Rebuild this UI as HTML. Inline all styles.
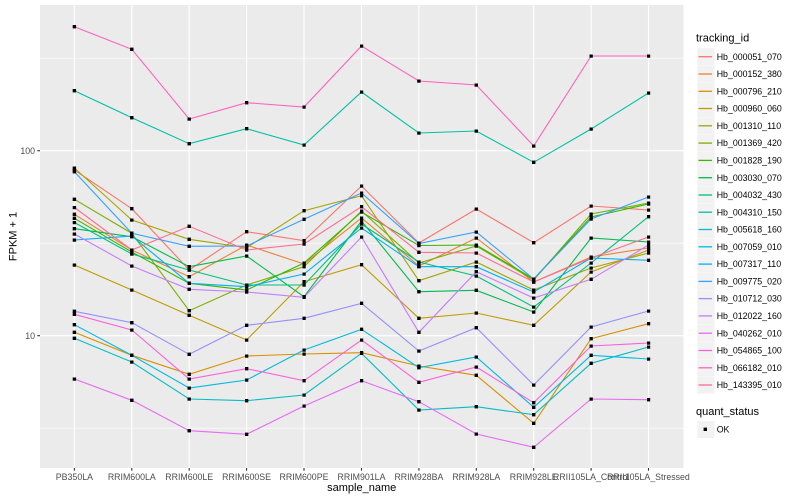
<!DOCTYPE html>
<html><head><meta charset="utf-8"><style>
html,body{margin:0;padding:0;background:#fff;}
svg{display:block;}
text{font-family:"Liberation Sans",Arial,sans-serif;}
</style></head><body>
<svg width="800" height="500" viewBox="0 0 800 500" xmlns="http://www.w3.org/2000/svg">
<defs>
<marker id="m" markerWidth="4" markerHeight="4" refX="1.7" refY="1.7" markerUnits="userSpaceOnUse"><rect x="0" y="0" width="3.4" height="3.4" fill="#000"/></marker>
</defs>
<rect x="0" y="0" width="800" height="500" fill="#fff"/>
<rect x="40" y="5" width="643.5" height="463" fill="#EBEBEB"/>
<g stroke="#fff" stroke-width="0.55">
<line x1="40" x2="683.5" y1="58.2" y2="58.2"/>
<line x1="40" x2="683.5" y1="243.2" y2="243.2"/>
<line x1="40" x2="683.5" y1="428.2" y2="428.2"/>
</g>
<g stroke="#fff" stroke-width="1.1">
<line x1="40" x2="683.5" y1="150.7" y2="150.7"/>
<line x1="40" x2="683.5" y1="335.7" y2="335.7"/>
<line x1="74.4" x2="74.4" y1="5" y2="468"/>
<line x1="131.8" x2="131.8" y1="5" y2="468"/>
<line x1="189.2" x2="189.2" y1="5" y2="468"/>
<line x1="246.6" x2="246.6" y1="5" y2="468"/>
<line x1="304.0" x2="304.0" y1="5" y2="468"/>
<line x1="361.5" x2="361.5" y1="5" y2="468"/>
<line x1="418.9" x2="418.9" y1="5" y2="468"/>
<line x1="476.3" x2="476.3" y1="5" y2="468"/>
<line x1="533.7" x2="533.7" y1="5" y2="468"/>
<line x1="591.1" x2="591.1" y1="5" y2="468"/>
<line x1="648.5" x2="648.5" y1="5" y2="468"/>
</g>
<g fill="none" stroke-width="1.1" id="lines">
<polyline stroke="#F8766D" points="74.4,170 131.8,208.7 189.2,270 246.6,231.7 304,240.7 361.5,186 418.9,243 476.3,209 533.7,242.7 591.1,206 648.5,210"/>
<polyline stroke="#EA8331" points="74.4,214.3 131.8,250 189.2,276.7 246.6,245 304,264 361.5,218 418.9,266 476.3,238 533.7,282 591.1,257 648.5,248"/>
<polyline stroke="#D89000" points="74.4,332.3 131.8,355.3 189.2,374.3 246.6,356 304,354 361.5,352.7 418.9,366 476.3,375.3 533.7,423.3 591.1,338.7 648.5,323.7"/>
<polyline stroke="#C09B00" points="74.4,265 131.8,290 189.2,315.3 246.6,340 304,281.7 361.5,264.7 418.9,318.3 476.3,313 533.7,325.3 591.1,272 648.5,250"/>
<polyline stroke="#A3A500" points="74.4,168 131.8,220 189.2,239.3 246.6,247.7 304,210.7 361.5,195.7 418.9,280.7 476.3,262 533.7,290 591.1,268 648.5,253"/>
<polyline stroke="#7CAE00" points="74.4,199.3 131.8,233.3 189.2,310.7 246.6,285 304,266.7 361.5,211 418.9,263 476.3,246 533.7,280 591.1,214 648.5,203"/>
<polyline stroke="#39B600" points="74.4,218.3 131.8,252 189.2,283.3 246.6,290 304,263 361.5,212 418.9,245.5 476.3,245 533.7,279 591.1,217 648.5,204"/>
<polyline stroke="#00BB4E" points="74.4,228.7 131.8,236.7 189.2,266.7 246.6,256 304,296.7 361.5,221 418.9,291.7 476.3,290.3 533.7,312 591.1,238 648.5,242"/>
<polyline stroke="#00BF7D" points="74.4,222.5 131.8,254 189.2,270 246.6,285 304,285 361.5,224 418.9,262 476.3,276 533.7,307 591.1,263 648.5,216.7"/>
<polyline stroke="#00C1A3" points="74.4,90.7 131.8,117.7 189.2,143.7 246.6,128.7 304,145 361.5,92 418.9,133 476.3,131 533.7,162.3 591.1,129 648.5,93"/>
<polyline stroke="#00BFC4" points="74.4,338.3 131.8,362 189.2,399 246.6,400.7 304,395 361.5,353.3 418.9,410 476.3,406.7 533.7,414.7 591.1,363.3 648.5,347"/>
<polyline stroke="#00BAE0" points="74.4,324.7 131.8,355.3 189.2,388 246.6,380 304,350 361.5,329.3 418.9,367.7 476.3,357 533.7,407.3 591.1,355.3 648.5,359"/>
<polyline stroke="#00B0F6" points="74.4,240 131.8,236 189.2,283.3 246.6,286.7 304,274 361.5,228 418.9,266.7 476.3,266.7 533.7,292 591.1,258 648.5,260.3"/>
<polyline stroke="#35A2FF" points="74.4,171.7 131.8,233.3 189.2,246.3 246.6,246 304,219.3 361.5,193 418.9,243.5 476.3,232 533.7,279 591.1,219 648.5,197"/>
<polyline stroke="#9590FF" points="74.4,311.3 131.8,322.7 189.2,354.3 246.6,325.3 304,318.3 361.5,303.3 418.9,351 476.3,327.7 533.7,385 591.1,327 648.5,311"/>
<polyline stroke="#C77CFF" points="74.4,234 131.8,266 189.2,289.3 246.6,292 304,297.3 361.5,237 418.9,332.3 476.3,271.7 533.7,298 591.1,279.3 648.5,245"/>
<polyline stroke="#E76BF3" points="74.4,379 131.8,400.3 189.2,430.7 246.6,434.3 304,406 361.5,380.7 418.9,401.7 476.3,434 533.7,447.3 591.1,399 648.5,399.7"/>
<polyline stroke="#FA62DB" points="74.4,314.3 131.8,330 189.2,379 246.6,368.7 304,380.7 361.5,340 418.9,382.3 476.3,367 533.7,402.7 591.1,346 648.5,343"/>
<polyline stroke="#FF62BC" points="74.4,26.7 131.8,49.3 189.2,119 246.6,102.7 304,107 361.5,46 418.9,81 476.3,85 533.7,146 591.1,56 648.5,56"/>
<polyline stroke="#FF6C91" points="74.4,207.5 131.8,250 189.2,226.3 246.6,250 304,244 361.5,206.7 418.9,252.3 476.3,253 533.7,282 591.1,258 648.5,237"/>
</g>
<g fill="none" stroke="none" marker-start="url(#m)" marker-mid="url(#m)" marker-end="url(#m)">
<polyline points="74.4,170 131.8,208.7 189.2,270 246.6,231.7 304,240.7 361.5,186 418.9,243 476.3,209 533.7,242.7 591.1,206 648.5,210"/>
<polyline points="74.4,214.3 131.8,250 189.2,276.7 246.6,245 304,264 361.5,218 418.9,266 476.3,238 533.7,282 591.1,257 648.5,248"/>
<polyline points="74.4,332.3 131.8,355.3 189.2,374.3 246.6,356 304,354 361.5,352.7 418.9,366 476.3,375.3 533.7,423.3 591.1,338.7 648.5,323.7"/>
<polyline points="74.4,265 131.8,290 189.2,315.3 246.6,340 304,281.7 361.5,264.7 418.9,318.3 476.3,313 533.7,325.3 591.1,272 648.5,250"/>
<polyline points="74.4,168 131.8,220 189.2,239.3 246.6,247.7 304,210.7 361.5,195.7 418.9,280.7 476.3,262 533.7,290 591.1,268 648.5,253"/>
<polyline points="74.4,199.3 131.8,233.3 189.2,310.7 246.6,285 304,266.7 361.5,211 418.9,263 476.3,246 533.7,280 591.1,214 648.5,203"/>
<polyline points="74.4,218.3 131.8,252 189.2,283.3 246.6,290 304,263 361.5,212 418.9,245.5 476.3,245 533.7,279 591.1,217 648.5,204"/>
<polyline points="74.4,228.7 131.8,236.7 189.2,266.7 246.6,256 304,296.7 361.5,221 418.9,291.7 476.3,290.3 533.7,312 591.1,238 648.5,242"/>
<polyline points="74.4,222.5 131.8,254 189.2,270 246.6,285 304,285 361.5,224 418.9,262 476.3,276 533.7,307 591.1,263 648.5,216.7"/>
<polyline points="74.4,90.7 131.8,117.7 189.2,143.7 246.6,128.7 304,145 361.5,92 418.9,133 476.3,131 533.7,162.3 591.1,129 648.5,93"/>
<polyline points="74.4,338.3 131.8,362 189.2,399 246.6,400.7 304,395 361.5,353.3 418.9,410 476.3,406.7 533.7,414.7 591.1,363.3 648.5,347"/>
<polyline points="74.4,324.7 131.8,355.3 189.2,388 246.6,380 304,350 361.5,329.3 418.9,367.7 476.3,357 533.7,407.3 591.1,355.3 648.5,359"/>
<polyline points="74.4,240 131.8,236 189.2,283.3 246.6,286.7 304,274 361.5,228 418.9,266.7 476.3,266.7 533.7,292 591.1,258 648.5,260.3"/>
<polyline points="74.4,171.7 131.8,233.3 189.2,246.3 246.6,246 304,219.3 361.5,193 418.9,243.5 476.3,232 533.7,279 591.1,219 648.5,197"/>
<polyline points="74.4,311.3 131.8,322.7 189.2,354.3 246.6,325.3 304,318.3 361.5,303.3 418.9,351 476.3,327.7 533.7,385 591.1,327 648.5,311"/>
<polyline points="74.4,234 131.8,266 189.2,289.3 246.6,292 304,297.3 361.5,237 418.9,332.3 476.3,271.7 533.7,298 591.1,279.3 648.5,245"/>
<polyline points="74.4,379 131.8,400.3 189.2,430.7 246.6,434.3 304,406 361.5,380.7 418.9,401.7 476.3,434 533.7,447.3 591.1,399 648.5,399.7"/>
<polyline points="74.4,314.3 131.8,330 189.2,379 246.6,368.7 304,380.7 361.5,340 418.9,382.3 476.3,367 533.7,402.7 591.1,346 648.5,343"/>
<polyline points="74.4,26.7 131.8,49.3 189.2,119 246.6,102.7 304,107 361.5,46 418.9,81 476.3,85 533.7,146 591.1,56 648.5,56"/>
<polyline points="74.4,207.5 131.8,250 189.2,226.3 246.6,250 304,244 361.5,206.7 418.9,252.3 476.3,253 533.7,282 591.1,258 648.5,237"/>
</g>
<!-- axes ticks -->
<g stroke="#333" stroke-width="1.1">
<line x1="37.3" x2="40" y1="150.7" y2="150.7"/>
<line x1="37.3" x2="40" y1="335.7" y2="335.7"/>
<line x1="74.4" x2="74.4" y1="468" y2="470.7"/>
<line x1="131.8" x2="131.8" y1="468" y2="470.7"/>
<line x1="189.2" x2="189.2" y1="468" y2="470.7"/>
<line x1="246.6" x2="246.6" y1="468" y2="470.7"/>
<line x1="304.0" x2="304.0" y1="468" y2="470.7"/>
<line x1="361.5" x2="361.5" y1="468" y2="470.7"/>
<line x1="418.9" x2="418.9" y1="468" y2="470.7"/>
<line x1="476.3" x2="476.3" y1="468" y2="470.7"/>
<line x1="533.7" x2="533.7" y1="468" y2="470.7"/>
<line x1="591.1" x2="591.1" y1="468" y2="470.7"/>
<line x1="648.5" x2="648.5" y1="468" y2="470.7"/>
</g>
<g font-size="8.8" fill="#4D4D4D">
<text x="35" y="153.8" text-anchor="end">100</text>
<text x="35" y="338.8" text-anchor="end">10</text>
</g>
<g font-size="8.8" fill="#4D4D4D" text-anchor="middle">
<text x="74.4" y="480">PB350LA</text>
<text x="131.8" y="480">RRIM600LA</text>
<text x="189.2" y="480">RRIM600LE</text>
<text x="246.6" y="480">RRIM600SE</text>
<text x="304.0" y="480">RRIM600PE</text>
<text x="361.5" y="480">RRIM901LA</text>
<text x="418.9" y="480">RRIM928BA</text>
<text x="476.3" y="480">RRIM928LA</text>
<text x="533.7" y="480">RRIM928LE</text>
<text x="591.1" y="480">RRII105LA_Control</text>
<text x="648.5" y="480">RRII105LA_Stressed</text>
</g>
<text x="361.7" y="491" font-size="11" text-anchor="middle" fill="#000">sample_name</text>
<text transform="translate(16.7,236.5) rotate(-90)" font-size="11" text-anchor="middle" fill="#000">FPKM + 1</text>
<!-- legend -->
<text x="696" y="41.7" font-size="11" fill="#000">tracking_id</text>
<g fill="#F2F2F2">
<rect x="697.3" y="48.2" width="17.2" height="17"/>
<rect x="697.3" y="65.5" width="17.2" height="17"/>
<rect x="697.3" y="82.8" width="17.2" height="17"/>
<rect x="697.3" y="100.1" width="17.2" height="17"/>
<rect x="697.3" y="117.4" width="17.2" height="17"/>
<rect x="697.3" y="134.7" width="17.2" height="17"/>
<rect x="697.3" y="152.0" width="17.2" height="17"/>
<rect x="697.3" y="169.2" width="17.2" height="17"/>
<rect x="697.3" y="186.5" width="17.2" height="17"/>
<rect x="697.3" y="203.8" width="17.2" height="17"/>
<rect x="697.3" y="221.1" width="17.2" height="17"/>
<rect x="697.3" y="238.4" width="17.2" height="17"/>
<rect x="697.3" y="255.7" width="17.2" height="17"/>
<rect x="697.3" y="273.0" width="17.2" height="17"/>
<rect x="697.3" y="290.3" width="17.2" height="17"/>
<rect x="697.3" y="307.5" width="17.2" height="17"/>
<rect x="697.3" y="324.8" width="17.2" height="17"/>
<rect x="697.3" y="342.1" width="17.2" height="17"/>
<rect x="697.3" y="359.4" width="17.2" height="17"/>
<rect x="697.3" y="376.7" width="17.2" height="17"/>
<rect x="697.3" y="421" width="17.2" height="17"/>
</g>
<g stroke-width="1.3">
<line x1="698.5" x2="712" y1="56.7" y2="56.7" stroke="#F8766D"/>
<line x1="698.5" x2="712" y1="74.0" y2="74.0" stroke="#EA8331"/>
<line x1="698.5" x2="712" y1="91.3" y2="91.3" stroke="#D89000"/>
<line x1="698.5" x2="712" y1="108.5" y2="108.5" stroke="#C09B00"/>
<line x1="698.5" x2="712" y1="125.8" y2="125.8" stroke="#A3A500"/>
<line x1="698.5" x2="712" y1="143.1" y2="143.1" stroke="#7CAE00"/>
<line x1="698.5" x2="712" y1="160.4" y2="160.4" stroke="#39B600"/>
<line x1="698.5" x2="712" y1="177.7" y2="177.7" stroke="#00BB4E"/>
<line x1="698.5" x2="712" y1="195.0" y2="195.0" stroke="#00BF7D"/>
<line x1="698.5" x2="712" y1="212.2" y2="212.2" stroke="#00C1A3"/>
<line x1="698.5" x2="712" y1="229.5" y2="229.5" stroke="#00BFC4"/>
<line x1="698.5" x2="712" y1="246.8" y2="246.8" stroke="#00BAE0"/>
<line x1="698.5" x2="712" y1="264.1" y2="264.1" stroke="#00B0F6"/>
<line x1="698.5" x2="712" y1="281.4" y2="281.4" stroke="#35A2FF"/>
<line x1="698.5" x2="712" y1="298.6" y2="298.6" stroke="#9590FF"/>
<line x1="698.5" x2="712" y1="315.9" y2="315.9" stroke="#C77CFF"/>
<line x1="698.5" x2="712" y1="333.2" y2="333.2" stroke="#E76BF3"/>
<line x1="698.5" x2="712" y1="350.5" y2="350.5" stroke="#FA62DB"/>
<line x1="698.5" x2="712" y1="367.8" y2="367.8" stroke="#FF62BC"/>
<line x1="698.5" x2="712" y1="385.0" y2="385.0" stroke="#FF6C91"/>
</g>
<g font-size="8.8" fill="#000">
<text x="716.7" y="59.8">Hb_000051_070</text>
<text x="716.7" y="77.1">Hb_000152_380</text>
<text x="716.7" y="94.4">Hb_000796_210</text>
<text x="716.7" y="111.6">Hb_000960_060</text>
<text x="716.7" y="128.9">Hb_001310_110</text>
<text x="716.7" y="146.2">Hb_001369_420</text>
<text x="716.7" y="163.5">Hb_001828_190</text>
<text x="716.7" y="180.8">Hb_003030_070</text>
<text x="716.7" y="198.1">Hb_004032_430</text>
<text x="716.7" y="215.3">Hb_004310_150</text>
<text x="716.7" y="232.6">Hb_005618_160</text>
<text x="716.7" y="249.9">Hb_007059_010</text>
<text x="716.7" y="267.2">Hb_007317_110</text>
<text x="716.7" y="284.5">Hb_009775_020</text>
<text x="716.7" y="301.7">Hb_010712_030</text>
<text x="716.7" y="319.0">Hb_012022_160</text>
<text x="716.7" y="336.3">Hb_040262_010</text>
<text x="716.7" y="353.6">Hb_054865_100</text>
<text x="716.7" y="370.9">Hb_066182_010</text>
<text x="716.7" y="388.1">Hb_143395_010</text>
<text x="716.7" y="432.5">OK</text>
</g>
<text x="696" y="415" font-size="11" fill="#000">quant_status</text>
<rect x="703.6" y="427.6" width="3.4" height="3.4" fill="#000"/>
</svg>
</body></html>
